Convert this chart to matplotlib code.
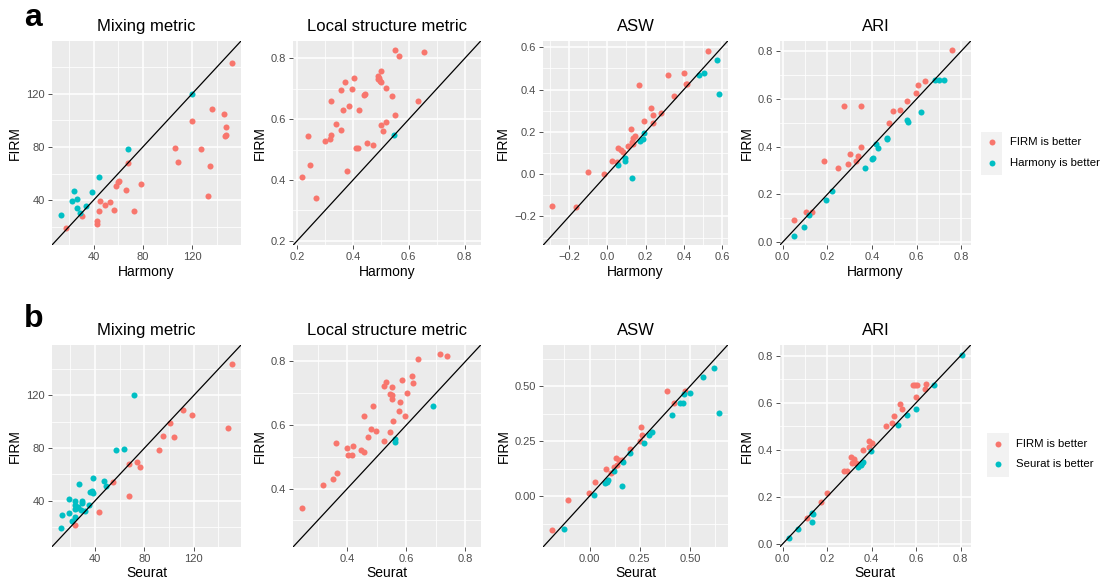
import matplotlib
matplotlib.use("Agg")
import matplotlib.pyplot as plt
from matplotlib.ticker import MultipleLocator, AutoMinorLocator, FuncFormatter
from matplotlib.patches import Rectangle
from matplotlib.lines import Line2D

plt.rcParams['font.family'] = ['Liberation Sans', 'DejaVu Sans']

RED = "#F8766D"
TEAL = "#00BFC4"

# ---------------- FIRM vs Harmony ----------------
a_mix_firm_x = [17.7, 30.5, 43.0, 43.0, 44.4, 45.2, 49.0, 53.6, 56.9, 58.2, 60.1, 61.0, 66.4, 67.8,
                72.7, 78.4, 106.4, 108.6, 120.0, 127.3, 132.5, 134.7, 136.1, 145.9, 147.7, 147.2, 146.7, 152.7]
a_mix_firm_y = [18.8, 27.9, 24.5, 22.0, 31.6, 39.5, 36.6, 38.5, 32.4, 50.8, 54.0, 54.3, 47.4, 67.6,
                31.6, 52.1, 79.4, 69.0, 99.3, 78.4, 43.2, 65.6, 108.9, 104.7, 95.1, 88.7, 88.0, 143.1]
a_mix_other_x = [13.3, 22.6, 24.2, 26.9, 26.4, 28.8, 34.3, 38.4, 44.1, 68.3, 120.0]
a_mix_other_y = [28.9, 39.5, 46.6, 41.2, 33.8, 30.6, 35.8, 45.9, 57.5, 78.2, 120.2]

a_loc_firm_x = [0.217, 0.238, 0.248, 0.267, 0.299, 0.318, 0.322, 0.322, 0.339, 0.359, 0.358, 0.366,
                0.371, 0.378, 0.385, 0.395, 0.405, 0.412, 0.417, 0.421, 0.440, 0.444, 0.450, 0.473,
                0.488, 0.491, 0.492, 0.496, 0.500, 0.502, 0.501, 0.507, 0.517, 0.517, 0.540, 0.549,
                0.552, 0.565, 0.634, 0.654]
a_loc_firm_y = [0.410, 0.546, 0.450, 0.340, 0.528, 0.536, 0.549, 0.661, 0.583, 0.564, 0.696, 0.632,
                0.724, 0.429, 0.644, 0.700, 0.736, 0.507, 0.505, 0.631, 0.681, 0.684, 0.523, 0.516,
                0.733, 0.744, 0.736, 0.726, 0.724, 0.758, 0.580, 0.560, 0.704, 0.591, 0.676, 0.613,
                0.827, 0.809, 0.661, 0.821]
a_loc_other_x = [0.548]
a_loc_other_y = [0.549]

a_asw_firm_x = [-0.291, -0.165, -0.100, -0.015, 0.025, 0.050, 0.057, 0.073, 0.080, 0.106, 0.122,
                0.128, 0.137, 0.143, 0.136, 0.166, 0.192, 0.231, 0.238, 0.238, 0.280, 0.318,
                0.350, 0.400, 0.411, 0.416, 0.526]
a_asw_firm_y = [-0.149, -0.156, 0.012, 0.002, 0.062, 0.058, 0.123, 0.116, 0.104, 0.135, 0.214,
                0.154, 0.170, 0.179, 0.141, 0.423, 0.251, 0.311, 0.281, 0.240, 0.288, 0.467,
                0.371, 0.478, 0.426, 0.426, 0.584]
a_asw_other_x = [0.056, 0.094, 0.094, 0.127, 0.171, 0.185, 0.192, 0.481, 0.504, 0.575, 0.586]
a_asw_other_y = [0.045, 0.075, 0.062, -0.018, 0.156, 0.167, 0.194, 0.467, 0.478, 0.540, 0.377]

a_ari_firm_x = [0.053, 0.104, 0.130, 0.185, 0.246, 0.275, 0.294, 0.303, 0.329, 0.338, 0.350, 0.350,
                0.475, 0.492, 0.524, 0.555, 0.598, 0.607, 0.637, 0.758]
a_ari_firm_y = [0.092, 0.126, 0.127, 0.341, 0.310, 0.571, 0.326, 0.370, 0.340, 0.360, 0.398, 0.571,
                0.498, 0.547, 0.554, 0.592, 0.623, 0.656, 0.674, 0.803]
a_ari_other_x = [0.050, 0.094, 0.116, 0.192, 0.222, 0.367, 0.398, 0.403, 0.418, 0.427, 0.466, 0.469,
                 0.555, 0.560, 0.619, 0.682, 0.702, 0.723]
a_ari_other_y = [0.027, 0.064, 0.112, 0.176, 0.215, 0.312, 0.347, 0.351, 0.411, 0.396, 0.432, 0.436,
                 0.513, 0.504, 0.544, 0.678, 0.678, 0.678]

# ---------------- FIRM vs Seurat ----------------
b_mix_firm_x = [23.7, 43.0, 54.1, 67.5, 67.8, 74.0, 76.7, 91.7, 94.7, 101.0, 103.7, 111.3, 118.4, 148.0, 151.3]
b_mix_firm_y = [21.9, 31.7, 54.0, 43.5, 67.8, 69.3, 65.8, 78.6, 89.2, 99.2, 88.4, 109.2, 105.0, 95.2, 143.6]
b_mix_other_x = [12.0, 13.1, 18.8, 19.0, 21.5, 23.4, 23.7, 23.9, 23.9, 25.0, 26.1, 26.7, 28.3, 29.4,
                 29.4, 31.6, 35.4, 35.6, 37.3, 38.6, 38.1, 46.8, 49.0, 56.9, 63.7, 71.6]
b_mix_other_y = [18.9, 29.2, 41.3, 30.5, 24.7, 39.5, 36.5, 33.5, 27.7, 34.2, 35.0, 52.3, 33.0, 39.5,
                 38.5, 32.0, 36.7, 46.8, 47.5, 45.8, 57.6, 54.8, 51.0, 78.4, 79.6, 120.0]

b_loc_firm_x = [0.246, 0.319, 0.350, 0.363, 0.364, 0.399, 0.401, 0.417, 0.420, 0.445, 0.457, 0.455,
                0.471, 0.479, 0.488, 0.498, 0.526, 0.526, 0.530, 0.544, 0.543, 0.550, 0.552, 0.551,
                0.554, 0.576, 0.579, 0.584, 0.594, 0.601, 0.619, 0.623, 0.641, 0.714, 0.737]
b_loc_firm_y = [0.340, 0.410, 0.430, 0.544, 0.450, 0.528, 0.506, 0.505, 0.535, 0.521, 0.515, 0.630,
                0.563, 0.589, 0.660, 0.582, 0.549, 0.722, 0.734, 0.579, 0.698, 0.721, 0.696, 0.681,
                0.613, 0.643, 0.674, 0.743, 0.629, 0.702, 0.754, 0.732, 0.807, 0.823, 0.818]
b_loc_other_x = [0.561, 0.563, 0.690]
b_loc_other_y = [0.557, 0.547, 0.660]

b_asw_firm_x = [-0.188, -0.108, -0.005, 0.027, 0.083, 0.107, 0.123, 0.133, 0.137, 0.147, 0.163,
                0.200, 0.250, 0.257, 0.260, 0.387, 0.422, 0.475]
b_asw_firm_y = [-0.154, -0.017, 0.014, 0.063, 0.122, 0.104, 0.134, 0.174, 0.140, 0.162, 0.166,
                0.215, 0.250, 0.313, 0.279, 0.479, 0.425, 0.479]
b_asw_other_x = [-0.127, 0.023, 0.075, 0.087, 0.093, 0.120, 0.160, 0.165, 0.202, 0.272, 0.297,
                 0.312, 0.412, 0.450, 0.467, 0.470, 0.500, 0.565, 0.618, 0.645]
b_asw_other_y = [-0.149, 0.003, 0.059, 0.064, 0.073, 0.116, 0.046, 0.157, 0.194, 0.241, 0.277,
                 0.290, 0.370, 0.424, 0.424, 0.463, 0.468, 0.540, 0.584, 0.378]

b_ari_firm_x = [0.109, 0.174, 0.201, 0.275, 0.290, 0.308, 0.312, 0.320, 0.328, 0.360, 0.386, 0.389,
                0.401, 0.463, 0.493, 0.501, 0.529, 0.538, 0.584, 0.596, 0.605, 0.600, 0.638, 0.643]
b_ari_firm_y = [0.111, 0.176, 0.217, 0.310, 0.310, 0.370, 0.344, 0.360, 0.344, 0.398, 0.435, 0.411,
                0.430, 0.499, 0.512, 0.544, 0.593, 0.571, 0.673, 0.673, 0.676, 0.624, 0.660, 0.681]
b_ari_other_x = [0.030, 0.071, 0.132, 0.136, 0.133, 0.340, 0.351, 0.358, 0.363, 0.398, 0.517, 0.560,
                 0.597, 0.682, 0.806]
b_ari_other_y = [0.027, 0.064, 0.132, 0.126, 0.094, 0.328, 0.337, 0.344, 0.350, 0.395, 0.505, 0.548,
                 0.571, 0.677, 0.803]

titles = ["Mixing metric", "Local structure metric", "ASW", "ARI"]
methods = ["Harmony", "Seurat"]
legend_labels = [["FIRM is better", "Harmony is better"], ["FIRM is better", "Seurat is better"]]

# tick step and label decimals per panel
steps = [[40, 0.2, 0.2, 0.2], [40, 0.2, 0.25, 0.2]]
decimals = [[0, 1, 1, 1], [0, 1, 2, 1]]

panels = [
    [(a_mix_firm_x, a_mix_firm_y, a_mix_other_x, a_mix_other_y),
     (a_loc_firm_x, a_loc_firm_y, a_loc_other_x, a_loc_other_y),
     (a_asw_firm_x, a_asw_firm_y, a_asw_other_x, a_asw_other_y),
     (a_ari_firm_x, a_ari_firm_y, a_ari_other_x, a_ari_other_y)],
    [(b_mix_firm_x, b_mix_firm_y, b_mix_other_x, b_mix_other_y),
     (b_loc_firm_x, b_loc_firm_y, b_loc_other_x, b_loc_other_y),
     (b_asw_firm_x, b_asw_firm_y, b_asw_other_x, b_asw_other_y),
     (b_ari_firm_x, b_ari_firm_y, b_ari_other_x, b_ari_other_y)],
]

W, H = 1105, 583
fig = plt.figure(figsize=(W / 100, H / 100), dpi=100)
fig.patch.set_facecolor("white")

col_px = [(52, 241), (293.3, 480.7), (543.3, 727.7), (780, 970.7)]
row_px = [(41, 245), (345, 546.7)]


def make_formatter(nd):
    def f(v, pos):
        s = f"{v:.{nd}f}"
        if s.startswith("-"):
            s = "\u2212" + s[1:]
        if nd == 0 and s == "\u22120":
            s = "0"
        return s
    return FuncFormatter(f)


for r in range(2):
    top, bot = row_px[r]
    for c in range(4):
        left, right = col_px[c]
        ax = fig.add_axes([left / W, 1 - bot / H, (right - left) / W, (bot - top) / H])
        ax.set_facecolor("#EBEBEB")
        fx, fy, ox, oy = panels[r][c]

        # shared limits for both axes: combined data range with 5% expansion
        allv = list(fx) + list(fy) + list(ox) + list(oy)
        lo, hi = min(allv), max(allv)
        pad = 0.05 * (hi - lo)
        ax.set_xlim(lo - pad, hi + pad)
        ax.set_ylim(lo - pad, hi + pad)

        for axis in (ax.xaxis, ax.yaxis):
            axis.set_major_locator(MultipleLocator(steps[r][c]))
            axis.set_minor_locator(AutoMinorLocator(2))
            axis.set_major_formatter(make_formatter(decimals[r][c]))

        ax.grid(which="major", color="white", linewidth=1.1, zorder=0)
        ax.grid(which="minor", color="white", linewidth=0.55, zorder=0)
        ax.set_axisbelow(True)
        for sp in ax.spines.values():
            sp.set_visible(False)

        ax.tick_params(which="major", length=3, width=0.6, color="#333333",
                       labelsize=8, labelcolor="#4D4D4D", pad=2)
        ax.tick_params(which="minor", length=0)

        ax.scatter(fx, fy, s=19, color=RED, linewidths=0, zorder=2)
        ax.scatter(ox, oy, s=19, color=TEAL, linewidths=0, zorder=2)
        ax.axline((0, 0), slope=1, color="black", linewidth=0.9, zorder=3)

        ax.set_title(titles[c], fontsize=12, pad=7.5, color="black")
        ax.set_xlabel(methods[r], fontsize=10, labelpad=2)
        ax.set_ylabel("FIRM", fontsize=10, labelpad=3)

# panel letters
fig.text(24 / W, 1 - 25.7 / H, "a", fontsize=23, fontweight="bold", va="baseline")
fig.text(24 / W, 1 - 327 / H, "b", fontsize=23, fontweight="bold", va="baseline")

# legends drawn in figure space
legend_geo = [
    dict(box=(981, 131.7, 1002, 175), key_x=991.7, keys_y=(142.3, 163.3), text_x=1010),
    dict(box=(986.7, 433.3, 1009.3, 476.7), key_x=998.3, keys_y=(444, 464.3), text_x=1016),
]
for r in range(2):
    g = legend_geo[r]
    x0, y0, x1, y1 = g["box"]
    fig.patches.append(Rectangle((x0 / W, 1 - y1 / H), (x1 - x0) / W, (y1 - y0) / H,
                                 transform=fig.transFigure, facecolor="#F2F2F2",
                                 edgecolor="none", zorder=1))
    for color, ky, label in zip((RED, TEAL), g["keys_y"], legend_labels[r]):
        fig.lines.append(Line2D([g["key_x"] / W], [1 - ky / H], transform=fig.transFigure,
                                marker="o", markersize=4.3, color=color, linestyle="none",
                                markeredgewidth=0, zorder=2))
        fig.text(g["text_x"] / W, 1 - ky / H, label, fontsize=8.2, va="center", ha="left")

fig.savefig("out.png", dpi=100)
